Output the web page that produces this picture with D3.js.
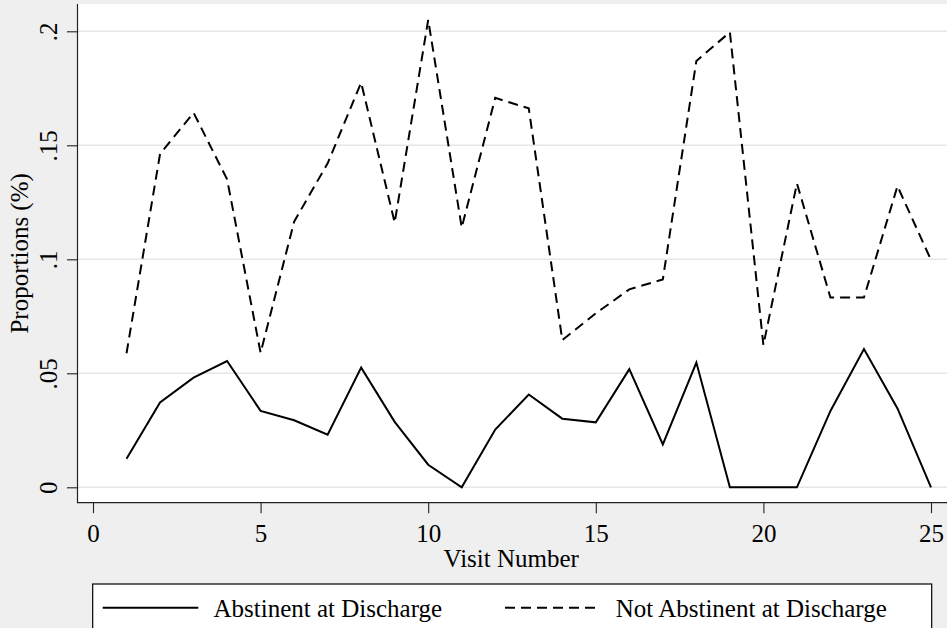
<!DOCTYPE html>
<html>
<head>
<meta charset="utf-8">
<script src="https://cdn.jsdelivr.net/npm/d3@7"></script>
<style>
  html, body { margin: 0; padding: 0; background: #efefef; }
  svg { display: block; }
  text { font-family: "Liberation Serif", "Times New Roman", serif; fill: #000; }
</style>
</head>
<body>
<svg id="chart" width="947" height="628"></svg>
<script>
// ---- data ----
const visits = [1,2,3,4,5,6,7,8,9,10,11,12,13,14,15,16,17,18,19,20,21,22,23,24,25];
const abstinent = [0.0125,0.0372,0.0481,0.0554,0.0335,0.0294,0.0231,0.0525,0.0287,0.0099,0.0,0.0253,0.0407,0.0301,0.0285,0.0518,0.0188,0.0547,0.0,0.0,0.0,0.0335,0.0606,0.0346,0.0];
const notAbstinent = [0.0588,0.1462,0.1643,0.1351,0.0590,0.1165,0.1421,0.1775,0.1161,0.2050,0.1139,0.1708,0.1662,0.0646,0.0763,0.0868,0.0912,0.1870,0.1996,0.0624,0.1333,0.0832,0.0832,0.1321,0.0997];
const seriesNames = ["Abstinent at Discharge", "Not Abstinent at Discharge"];
const yTicks = [0, 0.05, 0.1, 0.15, 0.2];
const yTickLabels = ["0", ".05", ".1", ".15", ".2"];
const xTicks = [0, 5, 10, 15, 20, 25];
const xTitle = "Visit Number";
const yTitle = "Proportions (%)";

// ---- layout ----
const svg = d3.select("#chart");
const W = 947, H = 628;
const plot = { left: 77.5, top: 4, right: 947, bottom: 502.7 };

const x = d3.scaleLinear().domain([0, 25]).range([93, 931]);
const y = d3.scaleLinear().domain([0, 0.2]).range([487.3, 31.3]);

svg.append("rect").attr("width", W).attr("height", H).attr("fill", "#efefef");
svg.append("rect")
  .attr("x", plot.left).attr("y", plot.top)
  .attr("width", plot.right - plot.left).attr("height", plot.bottom - plot.top)
  .attr("fill", "#ffffff");

// gridlines
svg.append("g").selectAll("line").data(yTicks).join("line")
  .attr("x1", plot.left).attr("x2", plot.right)
  .attr("y1", d => y(d)).attr("y2", d => y(d))
  .attr("stroke", "#e6e6e6").attr("stroke-width", 1.6);

// y axis
const yAxis = d3.axisLeft(y).tickValues(yTicks)
  .tickFormat((d, i) => yTickLabels[i]).tickSize(10.5).tickPadding(0);
const gy = svg.append("g").attr("transform", `translate(${plot.left},0)`).call(yAxis);
gy.select(".domain").remove();
gy.selectAll(".tick line").attr("stroke", "#222").attr("stroke-width", 1.1);
gy.selectAll(".tick text")
  .attr("x", 0).attr("dy", null)
  .attr("transform", "translate(-20.2,0) rotate(-90)")
  .attr("text-anchor", "middle")
  .style("font-family", '"Liberation Serif", serif')
  .style("font-size", "25px").attr("fill", "#000");

// x axis
const xAxis = d3.axisBottom(x).tickValues(xTicks).tickFormat(d3.format("d"))
  .tickSize(10.5).tickPadding(0);
const gx = svg.append("g").attr("transform", `translate(0,${plot.bottom})`).call(xAxis);
gx.select(".domain").remove();
gx.selectAll(".tick line").attr("stroke", "#222").attr("stroke-width", 1.1);
gx.selectAll(".tick text")
  .attr("y", 39).attr("dy", null)
  .style("font-family", '"Liberation Serif", serif')
  .style("font-size", "25px").attr("fill", "#000");

// axis lines
svg.append("line").attr("x1", plot.left).attr("x2", plot.left)
  .attr("y1", plot.top).attr("y2", plot.bottom + 0.5)
  .attr("stroke", "#222").attr("stroke-width", 1.2);
svg.append("line").attr("x1", plot.left).attr("x2", plot.right)
  .attr("y1", plot.bottom).attr("y2", plot.bottom)
  .attr("stroke", "#222").attr("stroke-width", 1.2);

// axis titles
svg.append("text").text(xTitle)
  .attr("x", (plot.left + 945) / 2).attr("y", 567)
  .attr("text-anchor", "middle").style("font-size", "25px");
svg.append("text").text(yTitle)
  .attr("transform", `translate(28,${(plot.top + plot.bottom) / 2}) rotate(-90)`)
  .attr("text-anchor", "middle").style("font-size", "25px");

// lines
const line = d3.line().x((d, i) => x(visits[i])).y(d => y(d));
svg.append("path").datum(notAbstinent).attr("d", line)
  .attr("fill", "none").attr("stroke", "#000").attr("stroke-width", 2)
  .attr("stroke-dasharray", "10,6").attr("stroke-linejoin", "miter");
svg.append("path").datum(abstinent).attr("d", line)
  .attr("fill", "none").attr("stroke", "#000").attr("stroke-width", 2)
  .attr("stroke-linejoin", "miter");

// legend
const lg = svg.append("g");
lg.append("rect").attr("x", 92.7).attr("y", 584).attr("width", 931.7 - 92.7).attr("height", 60)
  .attr("fill", "#fff").attr("stroke", "#000").attr("stroke-width", 1.2);
const legendItems = [
  { name: seriesNames[0], x0: 102.7, dash: null },
  { name: seriesNames[1], x0: 505, dash: "10,6" }
];
legendItems.forEach(it => {
  lg.append("line").attr("x1", it.x0).attr("x2", it.x0 + 95.6)
    .attr("y1", 607.7).attr("y2", 607.7)
    .attr("stroke", "#000").attr("stroke-width", 2)
    .attr("stroke-dasharray", it.dash);
  lg.append("text").text(it.name).attr("x", it.x0 + 110.8).attr("y", 616.7)
    .style("font-size", "25px");
});
</script>
</body>
</html>
